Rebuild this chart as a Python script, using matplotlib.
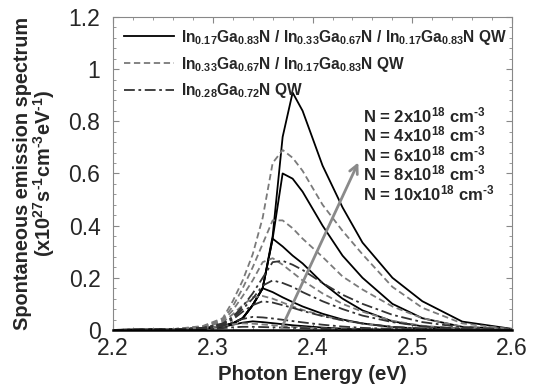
import matplotlib
matplotlib.use("Agg")
import matplotlib.pyplot as plt
from matplotlib.ticker import MultipleLocator, FuncFormatter

plt.rcParams["font.family"] = ["Liberation Sans", "DejaVu Sans"]
plt.rcParams["mathtext.fontset"] = "custom"
plt.rcParams["mathtext.rm"] = "Liberation Sans"
plt.rcParams["mathtext.bf"] = "Liberation Sans:bold"
plt.rcParams["mathtext.it"] = "Liberation Sans:italic"

# photon energy grid (eV)
energy = [2.20, 2.26, 2.29, 2.31, 2.32, 2.33, 2.34, 2.35, 2.36, 2.37,
          2.38, 2.39, 2.41, 2.43, 2.45, 2.48, 2.51, 2.55, 2.60]

densities = [2, 4, 6, 8, 10]  # x10^18 cm^-3

# In0.17Ga0.83N / In0.33Ga0.67N / In0.17Ga0.83N QW, N = 10, 8, 6, 4, 2
qw3_curves = [
    [0, 0.002, 0.006, 0.015, 0.025, 0.045, 0.095, 0.16, 0.36, 0.74, 0.91, 0.84, 0.63, 0.47, 0.335, 0.20, 0.11, 0.032, 0.004],
    [0, 0.002, 0.006, 0.015, 0.025, 0.045, 0.095, 0.16, 0.35, 0.60, 0.58, 0.53, 0.40, 0.285, 0.20, 0.10, 0.045, 0.012, 0.002],
    [0, 0.002, 0.006, 0.015, 0.025, 0.045, 0.095, 0.16, 0.35, 0.32, 0.285, 0.255, 0.18, 0.12, 0.075, 0.033, 0.014, 0.004, 0.001],
    [0, 0.002, 0.006, 0.015, 0.025, 0.045, 0.095, 0.16, 0.145, 0.125, 0.107, 0.09, 0.062, 0.04, 0.025, 0.011, 0.005, 0.001, 0],
    [0, 0.002, 0.005, 0.012, 0.02, 0.028, 0.033, 0.03, 0.026, 0.022, 0.018, 0.015, 0.009, 0.005, 0.003, 0.001, 0, 0, 0],
]

# In0.33Ga0.67N / In0.17Ga0.83N QW
qw2_curves = [
    [0, 0.003, 0.015, 0.045, 0.11, 0.19, 0.29, 0.43, 0.64, 0.69, 0.66, 0.61, 0.48, 0.38, 0.29, 0.165, 0.085, 0.025, 0.003],
    [0, 0.003, 0.013, 0.04, 0.09, 0.16, 0.24, 0.33, 0.42, 0.42, 0.39, 0.35, 0.28, 0.205, 0.155, 0.09, 0.045, 0.013, 0.002],
    [0, 0.003, 0.012, 0.035, 0.075, 0.13, 0.19, 0.26, 0.275, 0.25, 0.22, 0.19, 0.14, 0.10, 0.07, 0.035, 0.016, 0.004, 0.001],
    [0, 0.002, 0.01, 0.03, 0.06, 0.095, 0.125, 0.13, 0.12, 0.105, 0.09, 0.077, 0.055, 0.037, 0.024, 0.011, 0.005, 0.001, 0],
    [0, 0.001, 0.006, 0.015, 0.022, 0.025, 0.024, 0.021, 0.018, 0.015, 0.012, 0.01, 0.006, 0.004, 0.002, 0.001, 0, 0, 0],
]

# In0.28Ga0.72N QW
qw1_curves = [
    [0, 0.002, 0.008, 0.025, 0.05, 0.09, 0.14, 0.20, 0.26, 0.265, 0.25, 0.23, 0.18, 0.135, 0.10, 0.058, 0.03, 0.01, 0.001],
    [0, 0.002, 0.007, 0.022, 0.045, 0.08, 0.12, 0.17, 0.19, 0.18, 0.165, 0.145, 0.11, 0.08, 0.055, 0.03, 0.014, 0.004, 0],
    [0, 0.002, 0.006, 0.02, 0.04, 0.07, 0.095, 0.11, 0.105, 0.095, 0.085, 0.073, 0.053, 0.037, 0.025, 0.012, 0.005, 0.001, 0],
    [0, 0.001, 0.005, 0.015, 0.03, 0.042, 0.05, 0.048, 0.044, 0.039, 0.034, 0.029, 0.02, 0.013, 0.008, 0.004, 0.002, 0, 0],
    [0, 0.001, 0.003, 0.007, 0.01, 0.012, 0.012, 0.011, 0.01, 0.009, 0.008, 0.007, 0.005, 0.003, 0.002, 0.001, 0, 0, 0],
]

labels = [
    r"In$_{\mathbf{0.17}}$Ga$_{\mathbf{0.83}}$N / In$_{\mathbf{0.33}}$Ga$_{\mathbf{0.67}}$N / In$_{\mathbf{0.17}}$Ga$_{\mathbf{0.83}}$N QW",
    r"In$_{\mathbf{0.33}}$Ga$_{\mathbf{0.67}}$N / In$_{\mathbf{0.17}}$Ga$_{\mathbf{0.83}}$N QW",
    r"In$_{\mathbf{0.28}}$Ga$_{\mathbf{0.72}}$N QW",
]

TEXT = "#262626"
HY = "\u2010"  # short hyphen for the superscript exponents

fig = plt.figure(figsize=(5.38, 3.85), dpi=100)
ax = fig.add_axes([0.210, 0.143, 0.742, 0.813])

for i, y in enumerate(qw3_curves):
    ax.plot(energy, y, color="black", lw=1.3, label=labels[0] if i == 0 else None)
for i, y in enumerate(qw2_curves):
    ax.plot(energy, y, color="#7a7a7a", lw=1.3, ls=(0, (3.5, 2)),
            label=labels[1] if i == 0 else None)
for i, y in enumerate(qw1_curves):
    ax.plot(energy, y, color="#333333", lw=1.3, ls=(0, (6, 2, 1.5, 2)),
            label=labels[2] if i == 0 else None)

ax.annotate("", xy=(2.447, 0.652), xytext=(2.368, 0.0),
            arrowprops=dict(arrowstyle="->,head_length=0.6,head_width=0.3",
                            color="#8a8a8a", lw=2))

for k, n in enumerate(densities):
    ax.text(2.451, 0.824 - 0.075 * k,
            r"N = %dx10$^{\mathbf{18}}$ cm$^{\mathbf{%s3}}$" % (n, HY),
            fontsize=12, fontweight="bold", color=TEXT, va="center")

ax.set_xlim(2.2, 2.6)
ax.set_ylim(0, 1.2)
ax.xaxis.set_major_locator(MultipleLocator(0.1))
ax.xaxis.set_minor_locator(MultipleLocator(0.02))
ax.yaxis.set_major_locator(MultipleLocator(0.2))
ax.yaxis.set_minor_locator(MultipleLocator(0.04))
fmt = FuncFormatter(lambda v, p: "%g" % round(v, 2))
ax.xaxis.set_major_formatter(fmt)
ax.yaxis.set_major_formatter(fmt)
ax.tick_params(which="both", direction="in", top=True, right=True,
               color="#888888", labelsize=16.5, labelcolor=TEXT)
ax.tick_params(which="major", length=4, width=0.8)
ax.tick_params(which="minor", length=2.5, width=0.6)
ax.tick_params(axis="y", pad=9)
ax.tick_params(axis="x", pad=5)
for side in ["top", "left", "right"]:
    ax.spines[side].set_color("#888888")
    ax.spines[side].set_linewidth(0.8)
ax.spines["bottom"].set_color("black")
ax.spines["bottom"].set_linewidth(1.8)

ax.set_xlabel("Photon Energy (eV)", fontsize=14.7, fontweight="bold",
              color=TEXT, labelpad=4)
ax.set_ylabel("Spontaneous emission spectrum\n"
              r"(x10$^{\mathbf{27}}$s$^{\mathbf{%s1}}$cm$^{\mathbf{%s3}}$eV$^{\mathbf{%s1}}$)" % (HY, HY, HY),
              fontsize=14.3, fontweight="bold", color=TEXT, labelpad=8,
              linespacing=1.0)

leg = ax.legend(loc="upper left", frameon=False,
                prop={"weight": "bold", "size": 11.2}, handlelength=3.2,
                handletextpad=0.5, labelspacing=0.5,
                borderaxespad=0.3)
for t in leg.get_texts():
    t.set_color(TEXT)

fig.savefig("out.png", dpi=100)
